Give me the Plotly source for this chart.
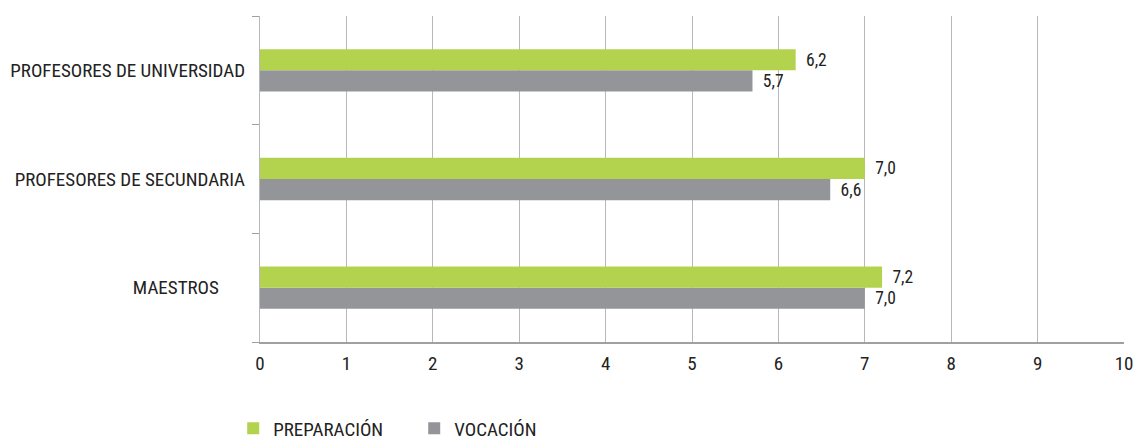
import plotly.graph_objects as go

categories = ["MAESTROS", "PROFESORES DE SECUNDARIA", "PROFESORES DE UNIVERSIDAD"]
category_labels = ["MAESTROS\u00a0\u00a0\u00a0\u00a0\u00a0\u00a0", "PROFESORES DE SECUNDARIA", "PROFESORES DE UNIVERSIDAD"]
preparacion = [7.2, 7.0, 6.2]
vocacion = [7.0, 6.6, 5.7]
x_ticks = [0, 1, 2, 3, 4, 5, 6, 7, 8, 9, 10]

GREEN = "#b3d34f"
GRAY = "#939598"
FONT = "Liberation Sans Narrow, Roboto Condensed, Arial Narrow, sans-serif"


def fmt(v):
    return f"{v:.1f}".replace(".", ",")


fig = go.Figure()
fig.add_trace(go.Bar(
    y=categories, x=vocacion, orientation="h", name="VOCACIÓN",
    marker=dict(color=GRAY, line=dict(width=0)),
    text=["\u00a0\u2009" + fmt(v) for v in vocacion], textposition="outside",
    textfont=dict(size=19, color="#222222", family=FONT),
    cliponaxis=False, legendrank=2,
))
fig.add_trace(go.Bar(
    y=categories, x=preparacion, orientation="h", name="PREPARACIÓN",
    marker=dict(color=GREEN, line=dict(width=0)),
    text=["\u00a0\u2009" + fmt(v) for v in preparacion], textposition="outside",
    textfont=dict(size=19, color="#222222", family=FONT),
    cliponaxis=False, legendrank=1,
))

fig.update_layout(
    width=1135, height=442,
    margin=dict(l=260, r=11, t=16, b=100, autoexpand=False),
    barmode="group", bargap=0.61, bargroupgap=0,
    plot_bgcolor="white", paper_bgcolor="white",
    font=dict(family=FONT, size=19, color="#222222"),
    showlegend=True,
    legend=dict(orientation="h", x=-0.031, xanchor="left", y=-0.265, yanchor="middle",
                font=dict(size=19, family=FONT), itemwidth=30,
                traceorder="normal", entrywidth=136, entrywidthmode="pixels"),
)
fig.update_xaxes(
    range=[0, 10], tickvals=x_ticks, ticktext=[str(t) for t in x_ticks],
    showgrid=True, gridcolor="#b8b8bc", gridwidth=1.3,
    showline=True, linecolor="#a0a0a4", linewidth=2,
    zeroline=False, ticks="", tickfont=dict(size=19, family=FONT, color="#222222"),
    ticklabelstandoff=3,
)
fig.update_yaxes(
    type="category", categoryorder="array", categoryarray=categories,
    tickvals=categories, ticktext=category_labels,
    showgrid=False, showline=True, linecolor="#b8b8bc", linewidth=1.3,
    ticks="outside", tickson="boundaries", ticklen=7, tickcolor="#a0a0a4",
    tickfont=dict(size=19, family=FONT, color="#222222"),
    ticklabelstandoff=10,
)

fig.write_html("out.html")
